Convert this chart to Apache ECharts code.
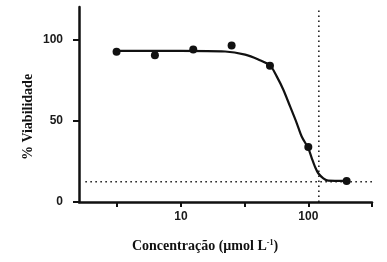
<!DOCTYPE html>
<html>
<head>
<meta charset="utf-8">
<script src="https://cdn.jsdelivr.net/npm/echarts@6/dist/echarts.min.js"></script>
<style>
html,body{margin:0;padding:0;background:#fff;}
#c{width:387px;height:262px;}
</style>
</head>
<body>
<div id="c"></div>
<script>
// Measured points (concentration in µmol/L, % viability)
const concentrations = [3.125, 6.25, 12.5, 25, 50, 100, 200];
const viability = [92.4, 90.3, 93.8, 96.3, 83.8, 33.8, 13.0];

// Fitted curve (log10 concentration, % viability)
const curveLogConc = [0.498, 1.0, 1.347, 1.504, 1.608, 1.70, 1.752, 1.804, 1.857, 1.909, 1.948, 2.0, 2.027, 2.052, 2.078, 2.118, 2.157, 2.235, 2.301];
const curveViability = [93.0, 93.0, 92.6, 90.7, 87.7, 84.0, 77.3, 69.1, 58.8, 48.6, 40.3, 33.0, 27.0, 21.8, 17.7, 14.6, 13.1, 13.0, 13.0];

// Reference (dotted) lines
const ic50Conc = 121;          // vertical dotted line
const plateauViability = 12.5; // horizontal dotted line
const hLineLogRange = [0.25, 2.5];

// Axes
const xTickLog = [0.5, 1, 1.5, 2, 2.5];
const xLabelLog = [1, 2];
const yTicks = [0, 50, 100];
const xRangeLog = [0.2, 2.5];
const yRange = [0, 120];

const ink = '#111';
const chart = echarts.init(document.getElementById('c'), null, {renderer: 'canvas'});

chart.setOption({
  animation: false,
  backgroundColor: '#fff',
  grid: {left: 79, right: 15, top: 7, bottom: 60, containLabel: false},
  xAxis: {
    type: 'value', min: xRangeLog[0], max: xRangeLog[1],
    splitLine: {show: false},
    axisLine: {show: true, onZero: false, lineStyle: {color: ink, width: 2.5}},
    axisTick: {show: true, customValues: xTickLog, length: 5, lineStyle: {color: ink, width: 2}},
    axisLabel: {customValues: xLabelLog, margin: 9, color: '#1a1a1a', fontFamily: 'Liberation Sans', fontWeight: 'bold', fontSize: 12,
      formatter: v => String(Math.round(Math.pow(10, v)))}
  },
  yAxis: {
    type: 'value', min: yRange[0], max: yRange[1],
    splitLine: {show: false},
    axisLine: {show: true, lineStyle: {color: ink, width: 2.5}},
    axisTick: {show: true, customValues: yTicks, length: 6, lineStyle: {color: ink, width: 2}},
    axisLabel: {customValues: yTicks, margin: 16, color: '#1a1a1a', fontFamily: 'Liberation Sans', fontWeight: 'bold', fontSize: 12}
  },
  series: [
    {
      type: 'line', silent: true, symbol: 'none',
      lineStyle: {color: ink, width: 1.5, type: [1.5, 3.5]},
      data: [[Math.log10(ic50Conc), yRange[0]], [Math.log10(ic50Conc), yRange[1]]]
    },
    {
      type: 'line', silent: true, symbol: 'none',
      lineStyle: {color: ink, width: 1.5, type: [1.5, 3.5]},
      data: hLineLogRange.map(x => [x, plateauViability])
    },
    {
      type: 'line', silent: true, symbol: 'none', smooth: 0.3,
      lineStyle: {color: ink, width: 2.2},
      data: curveLogConc.map((x, i) => [x, curveViability[i]])
    },
    {
      type: 'scatter', silent: true, symbol: 'circle', symbolSize: 8,
      itemStyle: {color: ink, opacity: 1},
      data: concentrations.map((c, i) => [Math.log10(c), viability[i]])
    }
  ],
  graphic: [
    {
      type: 'text', x: 205, y: 246,
      style: {
        text: '{a|Concentração (µmol L}{s|-1}{a|)}',
        x: 0, y: 0, align: 'center', verticalAlign: 'middle',
        rich: {
          a: {fontFamily: 'Liberation Serif', fontWeight: 'bold', fontSize: 14, fill: ink, lineHeight: 16},
          s: {fontFamily: 'Liberation Serif', fontWeight: 'bold', fontSize: 8, fill: ink, lineHeight: 16, padding: [0, 0, 7, 0]}
        }
      }
    },
    {
      type: 'text', x: 28, y: 117, rotation: Math.PI / 2,
      style: {
        text: '% Viabilidade', x: 0, y: 0, align: 'center', verticalAlign: 'middle',
        fontFamily: 'Liberation Serif', fontWeight: 'bold', fontSize: 14, fill: ink
      }
    }
  ]
});
</script>
</body>
</html>
